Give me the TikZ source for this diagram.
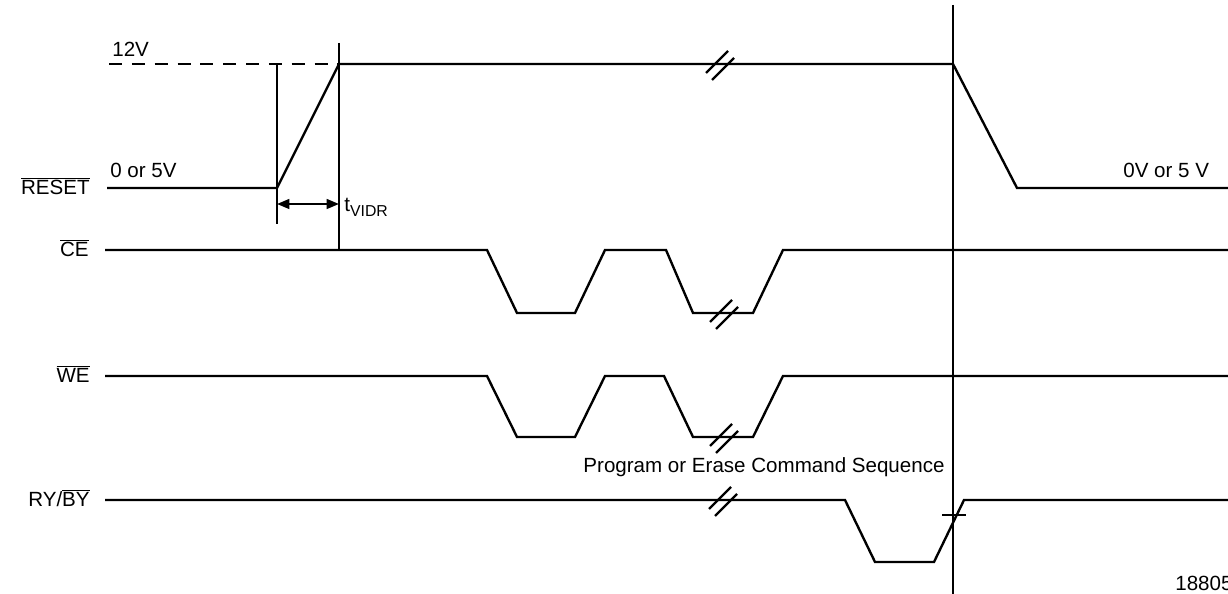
\documentclass[tikz,border=0pt]{standalone}
\usepackage{fontspec}
\setmainfont{Liberation Sans}
\usetikzlibrary{arrows.meta}
\begin{document}
\begin{tikzpicture}[x=0.02cm,y=-0.02cm,
  sig/.style={line width=1.35pt, line join=miter},
  guide/.style={line width=1.25pt},
  dashline/.style={line width=1.35pt, dash pattern=on 7.4pt off 5.6pt},
  lbl/.style={font=\fontsize{11.7}{14}\selectfont, inner sep=0pt},
  brk/.pic={\draw[line width=1.3pt] (-15,9) -- (7,-13); \draw[line width=1.3pt] (-9,16) -- (13,-6);}]
\useasboundingbox (0,0) rectangle (1228,594);

% signal labels
\node[lbl, anchor=base east] (lreset) at (90,195) {$\overline{\mbox{RESET}}$};
\node[lbl, anchor=base east] (lce) at (89,257) {$\overline{\mbox{CE}}$};
\node[lbl, anchor=base east] (lwe) at (90,383) {$\overline{\mbox{WE}}$};
\node[lbl, anchor=base east] (lry) at (90,507) {RY/$\overline{\mbox{BY}}$};

% voltage labels
\node[lbl, anchor=base west] (v12) at (112,57) {12V};
\node[lbl, anchor=base west] (v05) at (110,178) {0 or 5V};
\node[lbl, anchor=base west] (v05r) at (1123,178) {0V or 5 V};
\node[lbl, anchor=base] (prog) at (764,473) {Program or Erase Command Sequence};
\node[lbl, anchor=base west] (fig) at (1175,590) {18805};

% RESET
\draw[dashline] (109,64) -- (339,64);
\draw[sig] (107,188) -- (277,188) -- (339,64) -- (953,64) -- (1017,188) -- (1228,188);
\pic at (721,64) {brk};

% timing guides
\coordinate (g1t) at (277,64);
\coordinate (g1b) at (277,224);
\coordinate (g2t) at (339,43);
\coordinate (g2b) at (339,250);
\draw[guide] (g1t) -- (g1b);
\draw[guide] (g2t) -- (g2b);
\coordinate (a1) at (277,204);
\coordinate (a2) at (339,204);
\draw[guide, {Triangle[length=7pt,width=5.5pt]}-{Triangle[length=7pt,width=5.5pt]}] (a1) -- (a2);
\node[lbl, anchor=base west] (tv) at (344,212) {t\raisebox{-0.45ex}{\fontsize{9}{10}\selectfont VIDR}};

% CE
\draw[sig] (105,250) -- (487,250) -- (517,313) -- (575,313) -- (605,250) -- (666,250) -- (693,313) -- (753,313) -- (783,250) -- (1228,250);
\pic at (725,313) {brk};

% WE
\draw[sig] (105,376) -- (487,376) -- (517,437) -- (575,437) -- (605,376) -- (664,376) -- (693,437) -- (753,437) -- (783,376) -- (1228,376);
\pic at (725,437) {brk};

% RY/BY
\draw[sig] (105,500) -- (845,500) -- (875,562) -- (934,562) -- (964,500) -- (1228,500);
\pic at (724,500) {brk};
\draw[guide] (942,515) -- (966,515);

% reference line
\coordinate (rt) at (953,5);
\coordinate (rb) at (953,594);
\draw[guide] (rt) -- (rb);
\end{tikzpicture}
\end{document}
